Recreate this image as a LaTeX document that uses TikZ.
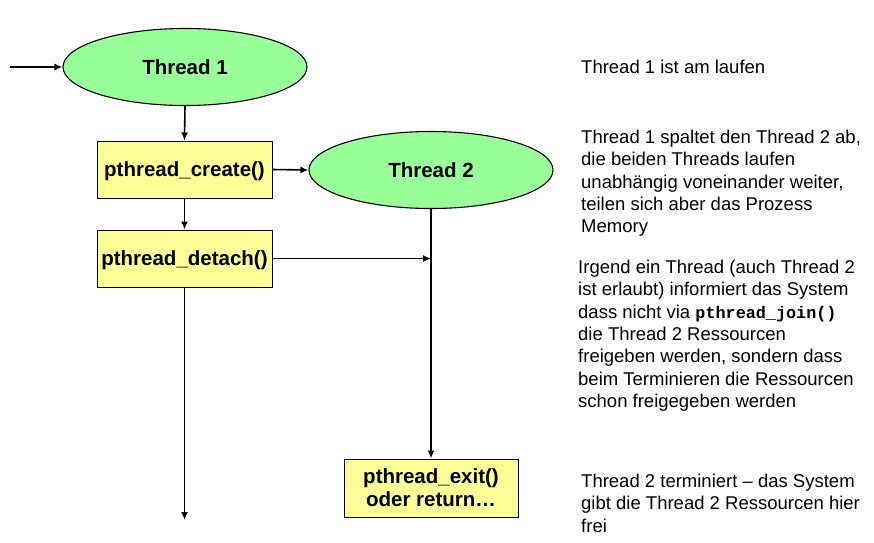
\documentclass[tikz,border=0pt]{standalone}
\usepackage{fontspec}
\setmainfont{Liberation Sans}
\setmonofont{Liberation Mono}
\usetikzlibrary{shapes.geometric,arrows.meta}

\definecolor{threadgreen}{HTML}{99FF99}
\definecolor{callyellow}{HTML}{FFFF99}

\tikzset{
  threadnode/.style={ellipse, draw=black, line width=1.1pt, fill=threadgreen,
    minimum width=244pt, minimum height=77pt, inner sep=0pt,
    font=\fontsize{20.5}{23}\selectfont\bfseries},
  callbox/.style={rectangle, draw=black, line width=1pt, fill=callyellow,
    minimum width=175pt, minimum height=57pt, inner sep=0pt, align=center,
    text depth=0pt, font=\fontsize{20.5}{23}\selectfont\bfseries},
  flow/.style={line width=1.6pt, -{Latex[length=8pt,width=7pt]}},
  note/.style={anchor=north west, inner sep=0pt, align=left,
    font=\fontsize{18.5}{22.3}\selectfont}
}

\begin{document}
\begin{tikzpicture}[x=1pt,y=-1pt]
  \useasboundingbox (0,0) rectangle (874,542);

  % Thread 1 and its calls
  \node[threadnode] (t1) at (185,67) {Thread 1};
  \coordinate (start) at (10,67);
  \node[callbox] (create) at (184.5,169.5) {pthread\_create()};
  \node[callbox] (detach) at (184.5,258.5) {pthread\_detach()};
  \coordinate (t1end) at (184.5,520);

  % Thread 2
  \node[threadnode] (t2) at (431,170) {Thread 2};
  \node[callbox, minimum width=174pt, minimum height=58pt] (exit) at (431,488)
    {pthread\_exit()\\oder return\dots};
  \coordinate (hit) at (t2.south |- detach.east);

  % connectors
  \draw[flow] (start) -- (t1.west);
  \draw[flow] (t1.south) -- (create.north);
  \draw[flow] (create.east) -- (t2.west);
  \draw[flow] (create.south) -- (detach.north);
  \draw[flow] (detach.south) -- (t1end);
  \draw[flow] (t2.south) -- (exit.north);
  \draw[flow] (detach.east) -- (hit);

  % explanations
  \node[note] (n1) at (581,60) {Thread 1 ist am laufen};
  \node[note] (n2) at (581,130) {Thread 1 spaltet den Thread 2 ab,\\
    die beiden Threads laufen\\
    unabhängig voneinander weiter,\\
    teilen sich aber das Prozess\\
    Memory};
  \node[note] (n3) at (578,260) {Irgend ein Thread (auch Thread 2\\
    ist erlaubt) informiert das System\\
    dass nicht via {\fontsize{16.8}{22.3}\selectfont\ttfamily\bfseries pthread\_join()}\\
    die Thread 2 Ressourcen\\
    freigeben werden, sondern dass\\
    beim Terminieren die Ressourcen\\
    schon freigegeben werden};
  \node[note] (n4) at (581,474) {Thread 2 terminiert – das System\\
    gibt die Thread 2 Ressourcen hier\\
    frei};
\end{tikzpicture}
\end{document}
